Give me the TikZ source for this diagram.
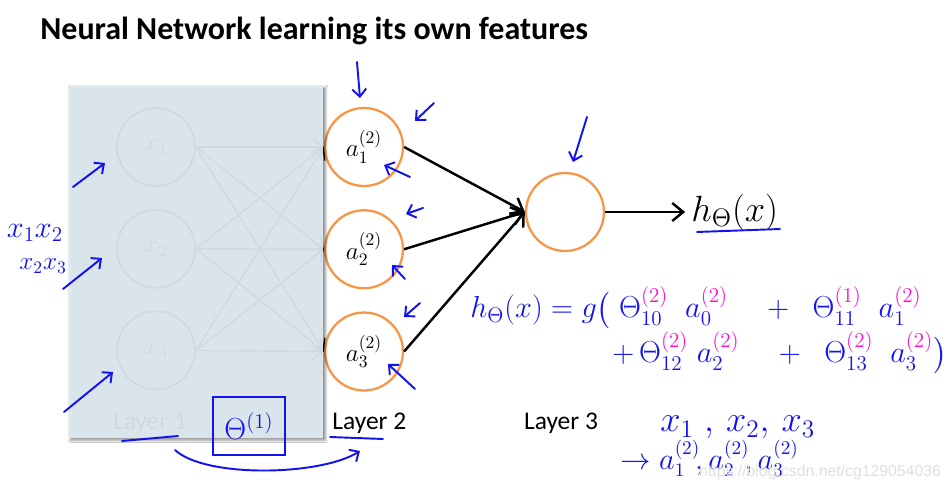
\documentclass[tikz,border=0pt]{standalone}
\usepackage{amsmath}
\usepackage{fontspec}
\usepackage{xcolor}
\usepackage{tikz}
\usetikzlibrary{positioning, arrows.meta, shadows.blur, calc}
\newfontfamily\calibri{Carlito}
\newfontfamily\arialfont{Liberation Sans}
\definecolor{nnOrange}{HTML}{F79646}
\definecolor{nnCover}{HTML}{DFEBF2}
\definecolor{penBlue}{HTML}{1212F0}
\definecolor{penPink}{HTML}{FF10D0}
\newcommand{\pk}[1]{{\color{penPink}#1}}

\begin{document}
\begin{tikzpicture}[
    x=0.02cm, y=-0.02cm,
    node distance=0.44cm,
    neuron/.style={circle, draw=nnOrange, line width=1.3pt, minimum size=1.56cm, inner sep=0pt, font=\Large},
    inneuron/.style={circle, draw=black, line width=1pt, minimum size=1.56cm, inner sep=0pt, font=\Large},
    layerlabel/.style={font=\calibri\fontsize{14.5}{17}\selectfont},
    arrow/.style={-{Straight Barb[length=2.2mm, width=3.6mm]}, line width=1.4pt},
    thinarrow/.style={-{Straight Barb[length=2mm, width=3.2mm]}, line width=0.8pt},
    cover/.style={fill=nnCover, fill opacity=0.93, inner sep=0pt, outer sep=0pt,
                  blur shadow={shadow xshift=1.3pt, shadow yshift=-1.3pt, shadow blur radius=1.2pt, shadow opacity=45}},
    pen/.style={penBlue, line width=1.1pt, line cap=round, line join=round},
    penarrow/.style={pen, -{Straight Barb[length=1.5mm, width=2.8mm]}},
    note/.style={text=penBlue, inner sep=0pt},
]
\useasboundingbox[fill=white] (0,0) rectangle (948,493);

% --- Title ---
\node[anchor=west, inner sep=0pt, font=\calibri\bfseries\fontsize{18.2}{22}\selectfont] (title) at (40,31) {Neural Network learning its own features};

% --- Layer 2 and output ---
\node[neuron] (a1) at (364,147) {$a_1^{(2)}$};
\node[neuron, below=of a1] (a2) {$a_2^{(2)}$};
\node[neuron, below=of a2] (a3) {$a_3^{(2)}$};
\node[neuron] (out) at (565,212) {};
\node[right=1.6cm of out, font=\fontsize{21}{25}\selectfont] (hx) {$h_\Theta(x)$};

\foreach \j in {1,2,3}
  \draw[arrow] (a\j.east) -- (out.west);
\draw[arrow] (out.east) -- (hx.west);

% --- Layer 1 (hidden under the cover) ---
\node[inneuron] (x1) at (156,147) {$x_1$};
\node[inneuron, below=of x1] (x2) {$x_2$};
\node[inneuron, below=of x2] (x3) {$x_3$};
\foreach \i in {1,2,3}
  \foreach \j in {1,2,3}
    \draw[thinarrow] (x\i.east) -- (a\j.west);

% Layer labels
\node[layerlabel, below=0.3cm of a3, xshift=3pt] (l2) {Layer 2};
\node[layerlabel] (l1) at ($(l2 -| x3)+(-6,0)$) {Layer 1};
\node[layerlabel] (l3) at ($(l2 -| out)+(-4,0)$) {Layer 3};

% Cover over layer 1
\node[cover, minimum width=5.11cm, minimum height=7.06cm] (cov) at (195.75,261.5) {};

% --- Pen notes: arrows at the units ---
\draw[penarrow] (73,187) -- (105,163);
\draw[penarrow] (63,289) -- (102,258);
\draw[penarrow] (64,412) -- (113,372);
\node[note, font=\LARGE] (pair12) at (35,233) {$x_1x_2$};
\node[note, font=\Large] (pair23) at (43,266) {$x_2x_3$};

\draw[penarrow] (357,62) -- (360,98);
\draw[penarrow] (434,103) -- (415,121);
\draw[penarrow] (410,177) -- (384,165);
\draw[penarrow] (423,208) -- (406,214);
\draw[penarrow] (405,279) -- (392,265);
\draw[penarrow] (420,303) -- (404,317);
\draw[penarrow] (415,389) -- (388,364);
\draw[penarrow] (587,117) -- (573,162);
\draw[pen] (697,232) -- (780,229);

% Theta(1) between layer 1 and layer 2
\node[draw=penBlue, line width=1.1pt, minimum width=1.44cm, minimum height=1.16cm, text=penBlue, font=\LARGE] (theta) at (249,426) {$\Theta^{(1)}$};
\draw[pen] (122,441) -- (178,436);
\draw[pen] (330,437) -- (383,439);
\draw[penarrow] (175,450) .. controls (205,478) and (320,476) .. (360,451);

% --- Pen notes: the output unit ---
\node[note, anchor=base west, font=\fontsize{18.5}{22}\selectfont] (hline1) at (470,318)
  {$h_\Theta(x) = g\bigl(\;\Theta^{\pk{(2)}}_{10}\;\;a_0^{\pk{(2)}} \quad+\;\; \Theta^{\pk{(1)}}_{11}\;\;a_1^{\pk{(2)}}$};
\node[note, anchor=base west, font=\fontsize{18.5}{22}\selectfont] (hline2) at (612,363)
  {$+\,\Theta^{\pk{(2)}}_{12}\;a_2^{\pk{(2)}} \quad+\;\; \Theta^{\pk{(2)}}_{13}\;\;a_3^{\pk{(2)}}\bigr)$};
\node[note, anchor=base west, font=\fontsize{20}{24}\selectfont] (xs) at (660,432) {$x_1\;,\,x_2,\,x_3$};
\node[note, anchor=base west, font=\fontsize{16}{20}\selectfont] (as) at (620,470) {$\rightarrow a_1^{(2)}\!, a_2^{(2)}\!, a_3^{(2)}$};

% Watermark
\node[anchor=west, text=black!12, font=\arialfont\fontsize{9}{11}\selectfont] (mark) at (693,472) {https://blog.csdn.net/cg129054036};

\end{tikzpicture}
\end{document}
